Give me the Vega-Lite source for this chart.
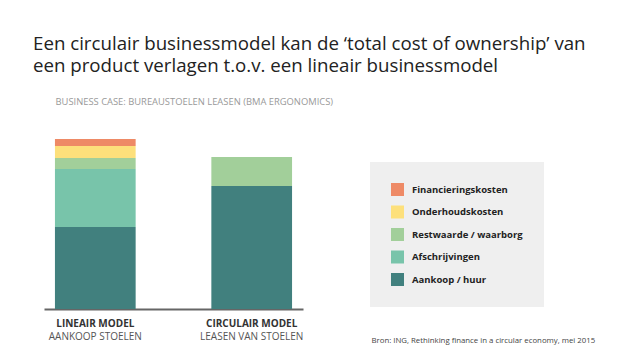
{
  "$schema": "https://vega.github.io/schema/vega-lite/v6.json",
  "autosize": "none",
  "width": 259,
  "height": 179,
  "padding": {"left": 44, "top": 130, "right": 337, "bottom": 51},
  "background": "white",
  "config": {"view": {"stroke": null}, "font": "Open Sans"},
  "title": {
    "text": ["Een circulair businessmodel kan de ‘total cost of ownership’ van", "een product verlagen t.o.v. een lineair businessmodel"],
    "anchor": "start",
    "frame": "group",
    "dx": -11,
    "fontSize": 18.7,
    "fontWeight": "normal",
    "font": "Open Sans",
    "color": "#222222",
    "lineHeight": 22,
    "offset": 20
  },
  "datasets": {
    "costs": [
      {"model": "LINEAIR MODEL", "component": "Aankoop / huur", "order": 1, "value": 82},
      {"model": "LINEAIR MODEL", "component": "Afschrijvingen", "order": 2, "value": 58},
      {"model": "LINEAIR MODEL", "component": "Restwaarde / waarborg", "order": 3, "value": 11},
      {"model": "LINEAIR MODEL", "component": "Onderhoudskosten", "order": 4, "value": 12},
      {"model": "LINEAIR MODEL", "component": "Financieringskosten", "order": 5, "value": 7},
      {"model": "CIRCULAIR MODEL", "component": "Aankoop / huur", "order": 1, "value": 123},
      {"model": "CIRCULAIR MODEL", "component": "Restwaarde / waarborg", "order": 3, "value": 29}
    ],
    "labels": [
      {"model": "LINEAIR MODEL", "sub": "AANKOOP STOELEN"},
      {"model": "CIRCULAIR MODEL", "sub": "LEASEN VAN STOELEN"}
    ]
  },
  "layer": [
    {
      "data": {"name": "costs"},
      "mark": {"type": "bar"},
      "encoding": {
        "x": {
          "field": "model",
          "type": "nominal",
          "sort": ["LINEAIR MODEL", "CIRCULAIR MODEL"],
          "scale": {"paddingInner": 0.484, "paddingOuter": 0.07},
          "axis": {
            "title": "Bron: ING, Rethinking finance in a circular economy, mei 2015",
            "titleX": 327,
            "titleY": 33,
            "titleAlign": "left",
            "titleBaseline": "alphabetic",
            "titleFontSize": 7.8,
            "titleFontWeight": "normal",
            "titleColor": "#444444",
            "titleFont": "Open Sans",
            "labelAngle": 0,
            "labelFontSize": 10,
            "labelFontWeight": "bold",
            "labelColor": "#333333",
            "labelFont": "Open Sans",
            "labelPadding": 9,
            "ticks": false,
            "domainColor": "#666666",
            "domainWidth": 2
          }
        },
        "y": {
          "field": "value",
          "type": "quantitative",
          "stack": "zero",
          "scale": {"domain": [0, 179], "nice": false},
          "axis": {
            "title": "BUSINESS CASE: BUREAUSTOELEN LEASEN (BMA ERGONOMICS)",
            "titleAngle": 0,
            "titleX": 11,
            "titleY": -26,
            "titleAlign": "left",
            "titleBaseline": "alphabetic",
            "titleFontSize": 9.4,
            "titleFontWeight": "normal",
            "titleColor": "#999999",
            "titleFont": "Open Sans",
            "labels": false,
            "ticks": false,
            "domain": false,
            "grid": false
          }
        },
        "color": {
          "field": "component",
          "type": "nominal",
          "scale": {
            "domain": ["Financieringskosten", "Onderhoudskosten", "Restwaarde / waarborg", "Afschrijvingen", "Aankoop / huur"],
            "range": ["#EE8A66", "#FDE07B", "#A2CF9A", "#78C4AA", "#41807E"]
          },
          "legend": {
            "title": null,
            "orient": "none",
            "legendX": 326,
            "legendY": 32,
            "fillColor": "#EFEFEF",
            "padding": 21,
            "symbolType": "square",
            "symbolSize": 169,
            "symbolStrokeWidth": 0,
            "symbolOpacity": 1,
            "labelFontSize": 9.5,
            "labelFontWeight": "bold",
            "labelColor": "#222222",
            "labelFont": "Open Sans",
            "labelOffset": 8,
            "rowPadding": 9.5
          }
        },
        "order": {"field": "order", "type": "quantitative", "sort": "ascending"}
      }
    },
    {
      "data": {"name": "labels"},
      "mark": {"type": "text", "baseline": "top", "dy": 23, "fontSize": 10, "color": "#555555", "font": "Open Sans"},
      "encoding": {
        "x": {"field": "model", "type": "nominal", "sort": ["LINEAIR MODEL", "CIRCULAIR MODEL"]},
        "y": {"datum": 0},
        "text": {"field": "sub"}
      }
    }
  ]
}
